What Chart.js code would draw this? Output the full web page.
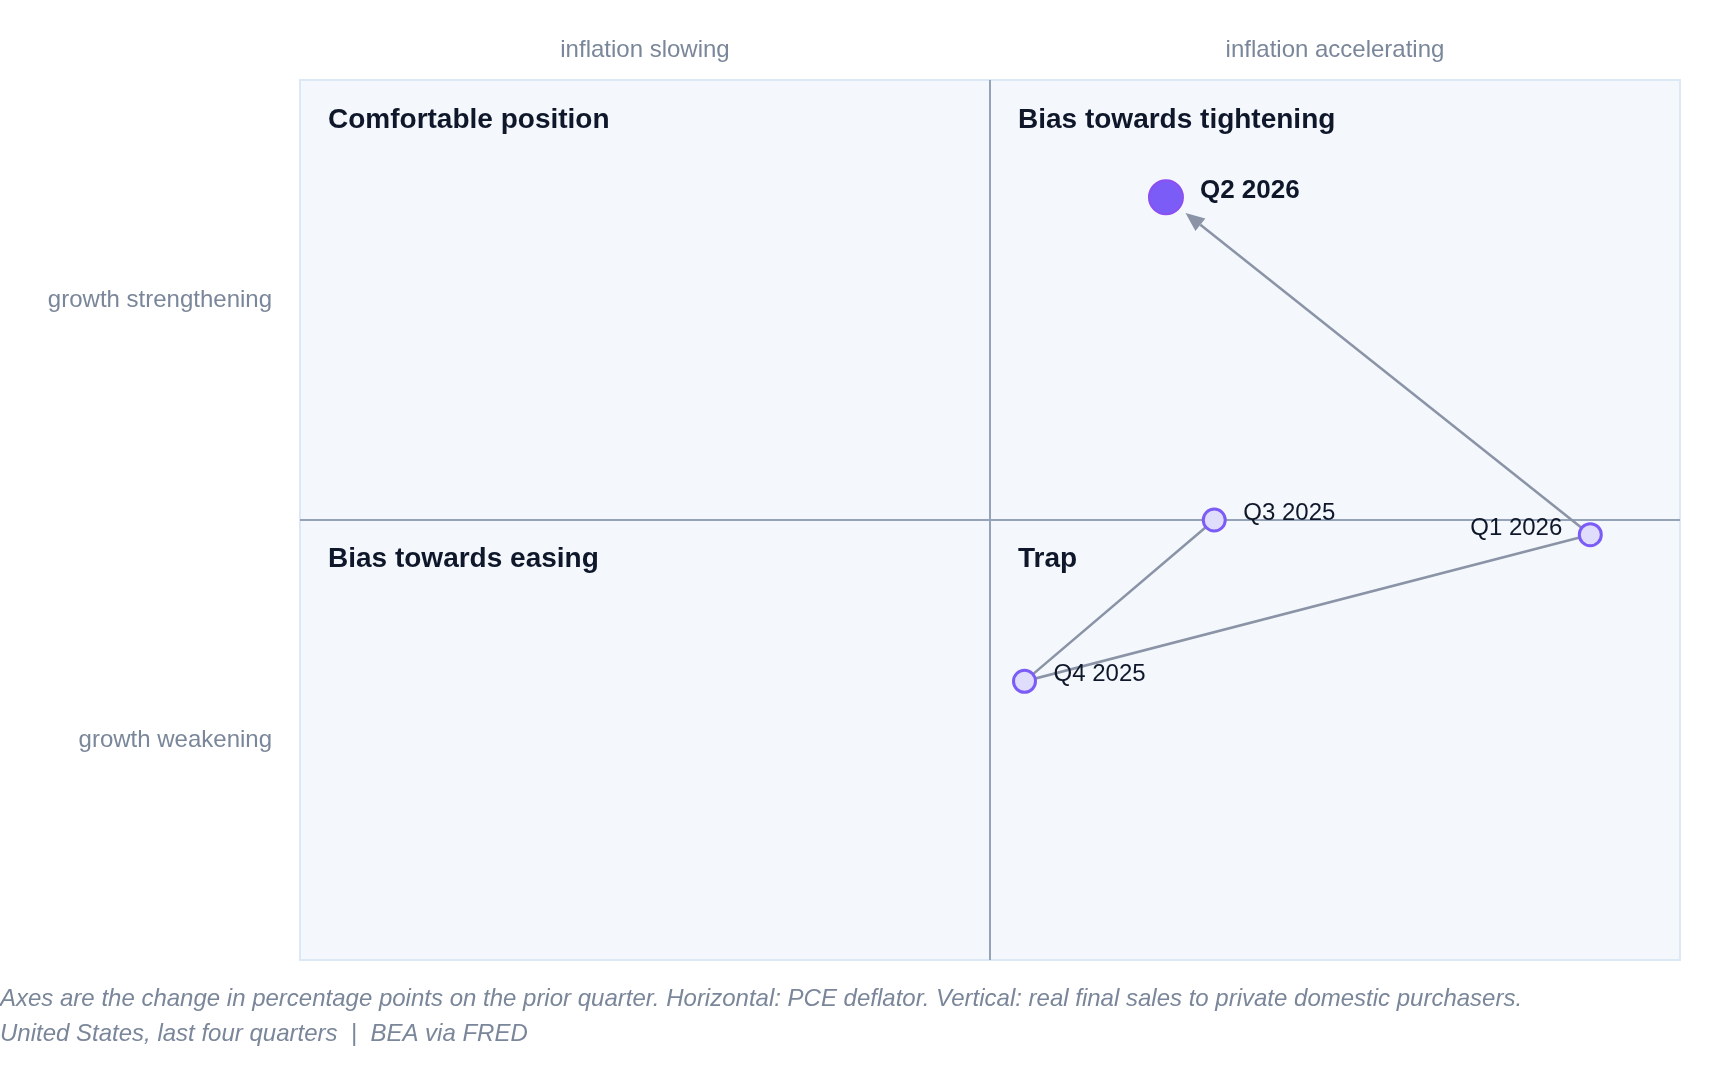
<!DOCTYPE html>
<html>
<head>
<meta charset="utf-8">
<script src="https://cdn.jsdelivr.net/npm/chart.js@4"></script>
<style>
  html, body { margin: 0; padding: 0; background: #fff; }
  #wrap { width: 1720px; height: 1092px; }
</style>
</head>
<body>
<div id="wrap"><canvas id="quad" width="1720" height="1092"></canvas></div>
<script>
// Quarters, oldest first; change in percentage points on the prior quarter
const quarters = ['Q3 2025', 'Q4 2025', 'Q1 2026', 'Q2 2026'];
const inflationChange = [0.325, 0.05, 0.87, 0.255];  // PCE deflator
const growthChange = [0.0, -1.1, -0.1, 2.2];         // real final sales to private domestic purchasers
const xLimit = 1.0;
const yLimit = 3.0;

const quadrantTitles = ['Comfortable position', 'Bias towards tightening', 'Bias towards easing', 'Trap'];
const topLabels = ['inflation slowing', 'inflation accelerating'];
const sideLabels = ['growth strengthening', 'growth weakening'];
const footNotes = [
  'Axes are the change in percentage points on the prior quarter. Horizontal: PCE deflator. Vertical: real final sales to private domestic purchasers.',
  'United States, last four quarters  |  BEA via FRED'
];

const FONT = '"Liberation Sans", Arial, sans-serif';
const MUTED = '#7a8699';
const INK = '#0f172a';
const PATH = '#8a94a6';
const last = quarters.length - 1;

const points = quarters.map((q, i) => ({ x: inflationChange[i], y: growthChange[i] }));

const quadrantPlugin = {
  id: 'quadrants',
  beforeDatasetsDraw(chart) {
    const { ctx, chartArea: a, scales } = chart;
    const cx = scales.x.getPixelForValue(0);
    const cy = scales.y.getPixelForValue(0);
    ctx.save();
    ctx.fillStyle = '#f4f8fc';
    ctx.fillRect(a.left, a.top, a.right - a.left, a.bottom - a.top);
    ctx.strokeStyle = '#dce8f5';
    ctx.lineWidth = 2;
    ctx.strokeRect(a.left, a.top, a.right - a.left, a.bottom - a.top);
    ctx.strokeStyle = '#94a3b8';
    ctx.lineWidth = 2;
    ctx.beginPath();
    ctx.moveTo(cx, a.top); ctx.lineTo(cx, a.bottom);
    ctx.moveTo(a.left, cy); ctx.lineTo(a.right, cy);
    ctx.stroke();

    // quadrant titles
    ctx.fillStyle = INK;
    ctx.font = 'bold 28px ' + FONT;
    ctx.textBaseline = 'alphabetic';
    ctx.textAlign = 'left';
    ctx.fillText(quadrantTitles[0], a.left + 28, a.top + 48);
    ctx.fillText(quadrantTitles[1], cx + 28, a.top + 48);
    ctx.fillText(quadrantTitles[2], a.left + 28, cy + 47);
    ctx.fillText(quadrantTitles[3], cx + 28, cy + 47);

    // last move drawn with an arrow, stopping short of the latest point
    const meta = chart.getDatasetMeta(0);
    const p0 = meta.data[last - 1], p1 = meta.data[last];
    const dx = p0.x - p1.x, dy = p0.y - p1.y;
    const len = Math.hypot(dx, dy);
    const ux = dx / len, uy = dy / len;
    const tipX = p1.x + ux * 25, tipY = p1.y + uy * 25;
    const headLen = 19, headW = 8;
    const bx = tipX + ux * headLen, by = tipY + uy * headLen;
    ctx.strokeStyle = PATH;
    ctx.lineWidth = 2.5;
    ctx.beginPath();
    ctx.moveTo(p0.x, p0.y);
    ctx.lineTo(bx, by);
    ctx.stroke();
    ctx.fillStyle = PATH;
    ctx.beginPath();
    ctx.moveTo(tipX, tipY);
    ctx.lineTo(bx - uy * headW, by + ux * headW);
    ctx.lineTo(bx + uy * headW, by - ux * headW);
    ctx.closePath();
    ctx.fill();
    ctx.restore();
  },
  afterDraw(chart) {
    const { ctx, chartArea: a, scales } = chart;
    const cx = scales.x.getPixelForValue(0);
    const cy = scales.y.getPixelForValue(0);
    ctx.save();
    ctx.fillStyle = MUTED;
    ctx.font = '24px ' + FONT;
    ctx.textAlign = 'center';
    ctx.textBaseline = 'alphabetic';
    ctx.fillText(topLabels[0], (a.left + cx) / 2, 57);
    ctx.fillText(topLabels[1], (cx + a.right) / 2, 57);
    ctx.textAlign = 'right';
    ctx.fillText(sideLabels[0], a.left - 28, (a.top + cy) / 2 + 7);
    ctx.fillText(sideLabels[1], a.left - 28, (cy + a.bottom) / 2 + 7);

    // point labels
    const meta = chart.getDatasetMeta(0);
    meta.data.forEach((pt, i) => {
      ctx.fillStyle = INK;
      if (i === last) {
        ctx.font = 'bold 26px ' + FONT;
        ctx.textAlign = 'left';
        ctx.fillText(quarters[i], pt.x + 34, pt.y + 1);
      } else if (i === last - 1) {
        ctx.font = '24px ' + FONT;
        ctx.textAlign = 'right';
        ctx.fillText(quarters[i], pt.x - 28, pt.y);
      } else {
        ctx.font = '24px ' + FONT;
        ctx.textAlign = 'left';
        ctx.fillText(quarters[i], pt.x + 29, pt.y);
      }
    });

    // footnotes
    ctx.fillStyle = MUTED;
    ctx.font = 'italic 24px ' + FONT;
    ctx.textAlign = 'left';
    ctx.fillText(footNotes[0], 0, 1006);
    ctx.fillText(footNotes[1], 0, 1041);
    ctx.restore();
  }
};

new Chart(document.getElementById('quad'), {
  type: 'scatter',
  data: {
    datasets: [{
      data: points,
      showLine: true,
      borderColor: PATH,
      borderWidth: 2.5,
      segment: {
        borderColor: c => c.p1DataIndex === last ? 'transparent' : PATH
      },
      pointRadius: quarters.map((q, i) => i === last ? 17 : 11),
      pointHoverRadius: quarters.map((q, i) => i === last ? 17 : 11),
      pointBackgroundColor: quarters.map((q, i) => i === last ? '#7c5cf6' : '#e0dcfc'),
      pointBorderColor: quarters.map((q, i) => i === last ? '#8b4ff2' : '#7c5cf6'),
      pointBorderWidth: quarters.map((q, i) => i === last ? 2 : 3)
    }]
  },
  options: {
    responsive: false,
    devicePixelRatio: 1,
    animation: false,
    layout: { padding: { left: 300, top: 80, right: 40, bottom: 132 } },
    scales: {
      x: { type: 'linear', min: -xLimit, max: xLimit, display: false },
      y: { type: 'linear', min: -yLimit, max: yLimit, display: false }
    },
    plugins: {
      legend: { display: false },
      tooltip: { enabled: false }
    }
  },
  plugins: [quadrantPlugin]
});
</script>
</body>
</html>
